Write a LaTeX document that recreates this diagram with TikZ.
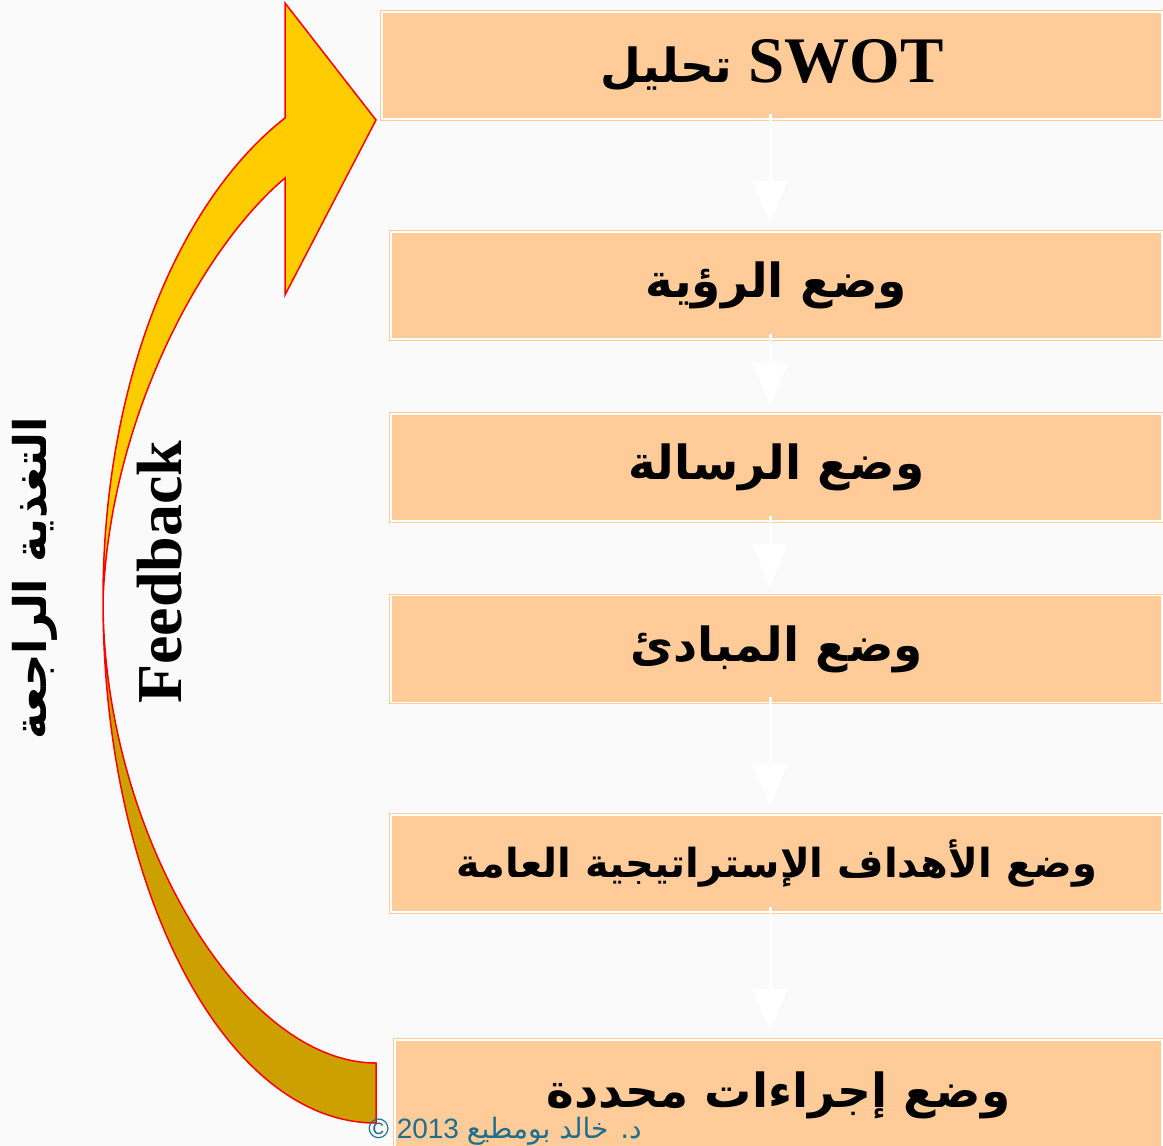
\documentclass[tikz,border=0pt]{standalone}
\usepackage{fontspec}
\setmainfont{Liberation Serif}
\newfontfamily\arabicfont[Script=Arabic]{DejaVu Sans}
\newfontfamily\creditfont{Liberation Sans}
\TeXXeTstate=1
\usetikzlibrary{arrows.meta,positioning}
\definecolor{peach}{HTML}{FFCC99}
\definecolor{arrowgold}{HTML}{FFCC00}
\definecolor{arrowdark}{HTML}{CCA000}
\definecolor{creditblue}{HTML}{1F6E8C}
\definecolor{paper}{HTML}{FAFAFA}

\begin{document}
\begin{tikzpicture}[x=1pt,y=-1pt,
    planbox/.style={draw=peach,double=white,double distance=1.5pt,line width=1pt,
      fill=peach,minimum width=771pt,minimum height=107pt,inner sep=0pt,
      font=\arabicfont\bfseries\fontsize{47}{50}\selectfont},
    flowarrow/.style={white,line width=3pt,-{Triangle[width=35pt,length=43pt]}}]
 \useasboundingbox[fill=paper] (0,0) rectangle (1163,1146);
 % boxes
 \node[planbox,minimum width=780pt] (swot) at (772,65.5)
  {\beginR تحليل\endR\ {\rmfamily\fontsize{65}{70}\selectfont SWOT}};
 \node[planbox] (vision) at (776.5,285.5) {\beginR وضع الرؤية\endR};
 \node[planbox] (mission) at (776.5,467.5) {\beginR وضع الرسالة\endR};
 \node[planbox] (values) at (776.5,649) {\beginR وضع المبادئ\endR};
 \node[planbox,minimum height=97pt,font=\arabicfont\bfseries\fontsize{40}{44}\selectfont] (goals) at (776.5,863.5)
  {\beginR وضع الأهداف الإستراتيجية العامة\endR};
 \node[planbox,minimum width=767pt,minimum height=110pt] (actions) at (778.5,1095)
  {\beginR وضع إجراءات محددة\endR};
 % white arrows between the boxes
 \coordinate (ax) at (770,0);
 \foreach \A/\B in {swot/vision,vision/mission,mission/values,values/goals,goals/actions}
  \draw[flowarrow] ([yshift=6pt]\A.south -| ax) -- ([yshift=8pt]\B.north -| ax);
 % curved feedback arrow
 \fill[arrowdark] (103,600) .. controls (103,889) and (225,1123) .. (376,1123)
  -- (376,1063) .. controls (240,1063) and (103,830) .. (103,600) -- cycle;
 \fill[arrowgold] (103,600) .. controls (103,380) and (180,200) .. (285,118)
  -- (285,3) -- (376,120) -- (285,295) -- (285,178)
  .. controls (200,250) and (110,420) .. (103,600) -- cycle;
 \draw[red,line width=1.5pt,line join=miter] (103,600) .. controls (103,889) and (225,1123) .. (376,1123)
  -- (376,1063) .. controls (240,1063) and (103,830) .. (103,600)
  .. controls (103,380) and (180,200) .. (285,118)
  -- (285,3) -- (376,120) -- (285,295) -- (285,178)
  .. controls (200,250) and (110,420) .. (103,600);
 % side labels
 \node[rotate=90,font=\arabicfont\bfseries\fontsize{45}{48}\selectfont] (fbarabic) at (35,578)
  {\beginR التغذية الراجعة\endR};
 \node[rotate=90,font=\bfseries\fontsize{64}{70}\selectfont] (fbenglish) at (160,572) {Feedback};
 \node[text=creditblue,font=\creditfont\fontsize{28}{30}\selectfont,inner sep=0pt] (credit) at (505,1131)
  {© 2013 {\arabicfont\beginR د. خالد بومطيع\endR}};
\end{tikzpicture}
\end{document}
